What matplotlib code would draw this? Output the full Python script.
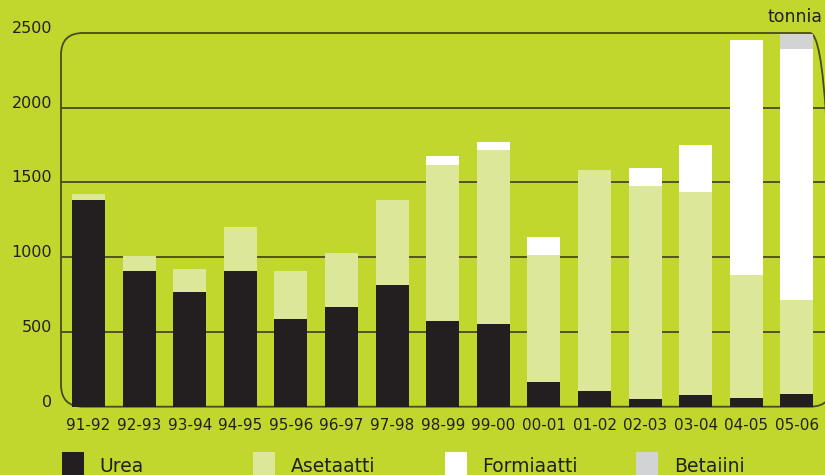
import matplotlib.pyplot as plt
from matplotlib.patches import FancyBboxPatch, Rectangle

# kaudet ja määrät (tonnia)
kaudet = ['91-92', '92-93', '93-94', '94-95', '95-96', '96-97', '97-98', '98-99',
          '99-00', '00-01', '01-02', '02-03', '03-04', '04-05', '05-06']
urea = [1383, 911, 765, 905, 585, 665, 811, 571, 551, 165, 105, 51, 78, 58, 85]
asetaatti = [42, 94, 153, 300, 320, 360, 574, 1047, 1167, 852, 1480, 1427, 1360, 820, 626]
formiaatti = [0, 0, 0, 0, 0, 0, 0, 60, 53, 120, 0, 120, 313, 1574, 1680]
betaiini = [0, 0, 0, 0, 0, 0, 0, 0, 0, 0, 0, 0, 0, 0, 100]

sarjat = ['Urea', 'Asetaatti', 'Formiaatti', 'Betaiini']
varit = ['#231f20', '#dde79a', '#ffffff', '#d1d3d4']
y_ticks = [0, 500, 1000, 1500, 2000, 2500]

tausta = '#c2d72e'
viiva = '#4a4a1e'
teksti = '#231f20'

W, H = 825, 475
fig = plt.figure(figsize=(W / 100, H / 100), dpi=100, facecolor=tausta)

# akselit pikseleinä: vasen 61, oikea 832 (yli reunan), ala 406.7, ylä 33
ax_l, ax_r, ax_b, ax_t = 61, 832, 406.7, 33
ax = fig.add_axes([ax_l / W, (H - ax_b) / H, (ax_r - ax_l) / W, (ax_b - ax_t) / H])
ax.set_facecolor('none')
for s in ax.spines.values():
    s.set_visible(False)

step = 50.6
x0 = (ax_l - 88.5) / step
ax.set_xlim(x0, x0 + (ax_r - ax_l) / step)
ax.set_ylim(0, 2500)

x = list(range(len(kaudet)))
bottom = [0] * len(kaudet)
for vals, col in zip([urea, asetaatti, formiaatti, betaiini], varit):
    ax.bar(x, vals, width=0.652, bottom=bottom, color=col, zorder=3, linewidth=0)
    bottom = [b + v for b, v in zip(bottom, vals)]

# vaakaviivat
for yv in y_ticks[1:-1]:
    ax.axhline(yv, color=viiva, lw=1.3, zorder=1)

# pyöristetty kehys
frame = FancyBboxPatch((ax_l / 100, (H - ax_b) / 100), (ax_r - ax_l) / 100, (ax_b - ax_t) / 100,
                       boxstyle='round,pad=0,rounding_size=0.22',
                       transform=fig.dpi_scale_trans, facecolor='none',
                       edgecolor=viiva, lw=1.3, clip_on=False, zorder=1)
ax.add_patch(frame)

ax.set_xticks(x)
ax.set_xticklabels(kaudet, fontsize=11, color=teksti)
ax.set_yticks(y_ticks)
ax.set_yticklabels([str(v) for v in y_ticks], fontsize=11.5, color=teksti, va='baseline')
ax.tick_params(axis='x', length=0, pad=8)
ax.tick_params(axis='y', length=0, pad=6.5)

fig.text(823 / W, (H - 17) / H, 'tonnia', ha='right', va='center', fontsize=12.5, color=teksti)

# selite
for i, (nimi, col) in enumerate(zip(sarjat, varit)):
    lx = 61.5 + 191.5 * i
    fig.patches.append(Rectangle((lx / 100, 0), 0.22, 0.23, transform=fig.dpi_scale_trans,
                                 facecolor=col, edgecolor='none'))
    fig.text((lx + 38) / W, 9 / H, nimi, ha='left', va='center', fontsize=13.5, color=teksti)

fig.savefig('out.png', dpi=100, facecolor=tausta)
